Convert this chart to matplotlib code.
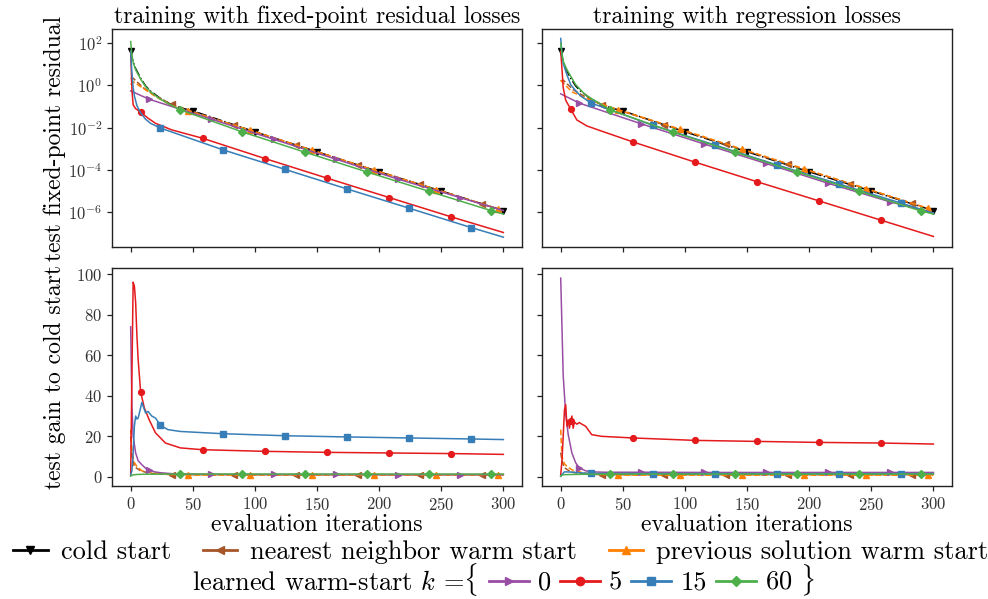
import matplotlib
matplotlib.use("Agg")
import matplotlib.pyplot as plt
from matplotlib.lines import Line2D
from matplotlib.ticker import NullLocator

# ---- cold start (same run for both training losses) ----
COLD_X = [0, 1, 2, 4, 8, 12, 16, 24, 32, 40, 50, 100, 150, 200, 250, 300]
COLD_RES = [4.2e1, 2.2e1, 1.3e1, 6.3e0, 2.2e0, 9.5e-1, 5.4e-1, 2.4e-1, 1.3e-1,
            8.7e-2, 6.2e-2, 6.3e-3, 7.1e-4, 7.9e-5, 9.8e-6, 1.15e-6]

# ---- fixed-point residual losses: test residual ----
FP_NN_X = [0, 2, 10, 20, 33, 83, 133, 183, 233, 283, 300]
FP_NN_RES = [2.0e0, 2.2e0, 7.9e-1, 3.2e-1, 1.26e-1, 1.3e-2, 1.5e-3, 1.7e-4, 2.0e-5, 2.4e-6, 1.15e-6]
FP_PREV_X = [0, 2, 10, 20, 33, 46, 96, 146, 196, 246, 296, 300]
FP_PREV_RES = [1.1e0, 1.5e0, 7.4e-1, 3.0e-1, 1.1e-1, 6.3e-2, 7.6e-3, 8.5e-4, 9.5e-5, 1.15e-5, 1.35e-6, 1.15e-6]
FP_K0_X = [0, 15, 65, 115, 165, 215, 265, 300]
FP_K0_RES = [5.5e-1, 2.2e-1, 2.5e-2, 2.8e-3, 3.2e-4, 3.6e-5, 4.8e-6, 1.15e-6]
FP_K5_X = [0, 1, 2, 4, 8, 14, 20, 33, 58, 108, 158, 208, 258, 300]
FP_K5_RES = [4.2e1, 6.3e-1, 1.2e-1, 7.9e-2, 5.4e-2, 2.8e-2, 1.6e-2, 7.8e-3, 3.1e-3,
             3.4e-4, 4.0e-5, 4.8e-6, 5.8e-7, 1.05e-7]
FP_K15_X = [0, 1, 2, 3, 5, 8, 12, 16, 24, 74, 124, 174, 224, 274, 300]
FP_K15_RES = [4.2e1, 4.0e0, 7.9e-1, 3.2e-1, 1.1e-1, 5.0e-2, 2.5e-2, 1.6e-2, 9.5e-3,
              8.9e-4, 1.05e-4, 1.23e-5, 1.5e-6, 1.8e-7, 6.3e-8]
FP_K60_X = [0, 1, 2, 4, 8, 12, 16, 24, 32, 40, 90, 140, 190, 240, 290, 300]
FP_K60_RES = [1.2e2, 2.8e1, 1.26e1, 5.6e0, 2.0e0, 8.9e-1, 5.0e-1, 2.2e-1, 1.2e-1,
              6.9e-2, 6.2e-3, 6.9e-4, 7.9e-5, 9.5e-6, 1.15e-6, 7.9e-7]

# ---- regression losses: test residual ----
REG_NN_X = [0, 2, 10, 20, 33, 83, 133, 183, 233, 283, 300]
REG_NN_RES = [1.6e0, 1.8e0, 6.3e-1, 2.8e-1, 1.2e-1, 1.4e-2, 1.6e-3, 1.8e-4, 2.2e-5, 2.5e-6, 1.2e-6]
REG_PREV_X = [0, 1, 9, 20, 46, 96, 146, 196, 246, 296, 300]
REG_PREV_RES = [1.8e0, 1.5e0, 5.0e-1, 2.5e-1, 7.1e-2, 8.5e-3, 9.5e-4, 1.1e-4, 1.26e-5, 1.45e-6, 1.23e-6]
REG_K0_X = [0, 15, 65, 115, 165, 215, 265, 300]
REG_K0_RES = [4.0e-1, 1.45e-1, 1.5e-2, 1.7e-3, 2.0e-4, 2.3e-5, 3.0e-6, 8.9e-7]
REG_K5_X = [0, 1, 2, 4, 8, 13, 21, 32, 58, 108, 158, 208, 258, 300]
REG_K5_RES = [4.2e1, 6.3e0, 7.9e-1, 2.0e-1, 7.6e-2, 2.3e-2, 1.2e-2, 7.1e-3, 2.1e-3,
              2.3e-4, 2.7e-5, 3.3e-6, 4.0e-7, 6.8e-8]
REG_K15_X = [0, 1, 2, 5, 8, 12, 16, 24, 74, 124, 174, 224, 274, 300]
REG_K15_RES = [1.7e2, 3.2e1, 1.1e1, 3.2e0, 1.1e0, 5.6e-1, 3.2e-1, 1.5e-1, 1.3e-2,
               1.5e-3, 1.7e-4, 2.1e-5, 2.6e-6, 8.7e-7]
REG_K60_X = [0, 1, 2, 5, 12, 20, 40, 90, 140, 190, 240, 290, 300]
REG_K60_RES = [1.0e2, 3.2e1, 1.4e1, 5.6e0, 1.1e0, 3.5e-1, 6.9e-2, 6.2e-3, 6.9e-4,
               7.9e-5, 9.5e-6, 1.1e-6, 7.9e-7]

# ---- fixed-point residual losses: gain over cold start ----
FP_NN_GX = [0, 1, 3, 8, 15, 33, 83, 133, 183, 233, 283, 300]
FP_NN_GAIN = [20, 10, 5, 3, 1.8, 1.1, 1.1, 1.1, 1.1, 1.1, 1.1, 1.1]
FP_PREV_GX = [0, 1, 3, 5, 9, 17, 30, 46, 96, 146, 196, 246, 296, 300]
FP_PREV_GAIN = [23.3, 12, 7, 5.2, 3, 2, 1.2, 0.9, 0.85, 0.85, 0.85, 0.85, 0.85, 0.85]
FP_K0_GX = [0, 1, 2, 4, 6, 9, 12, 15, 20, 25, 35, 65, 115, 165, 215, 265, 300]
FP_K0_GAIN = [74, 35, 20, 11.8, 8, 6, 4.3, 3.3, 2.4, 2.0, 1.5, 1.3, 1.2, 1.2, 1.15, 1.15, 1.1]
FP_K5_GX = [0, 1, 2, 3, 4, 5, 6, 8, 11, 15, 20, 28, 40, 58, 108, 158, 208, 258, 300]
FP_K5_GAIN = [1, 50, 96, 94, 86, 70, 58, 42, 34, 28, 21.7, 16.7, 14.3, 13.4, 12.6, 12.1,
              11.8, 11.5, 11.1]
FP_K15_GX = [0, 1, 2, 3, 4, 5, 6, 8, 9, 10, 12, 14, 15, 17, 20, 24, 30, 40, 74, 124,
             174, 224, 274, 300]
FP_K15_GAIN = [1, 3, 12, 25, 30, 28.5, 29, 34, 36.7, 35, 31.5, 32.3, 31.5, 30, 29, 25.4,
               23.3, 22.4, 21.3, 20.3, 19.7, 19.2, 18.7, 18.4]
FP_K60_GX = [0, 1, 2, 5, 10, 20, 40, 90, 140, 190, 240, 290, 300]
FP_K60_GAIN = [0.35, 0.8, 1.0, 1.2, 1.3, 1.35, 1.4, 1.4, 1.4, 1.4, 1.4, 1.4, 1.4]

# ---- regression losses: gain over cold start ----
REG_NN_GX = [0, 1, 3, 8, 15, 33, 83, 133, 183, 233, 283, 300]
REG_NN_GAIN = [12, 8, 4.5, 2.5, 1.6, 1.1, 1.1, 1.1, 1.1, 1.1, 1.1, 1.1]
REG_PREV_GX = [0, 1, 3, 5, 9, 13, 20, 30, 46, 96, 146, 196, 246, 296, 300]
REG_PREV_GAIN = [23.3, 10, 6.5, 5.2, 3.5, 2.8, 1.8, 1.2, 0.85, 0.85, 0.85, 0.85, 0.85, 0.85, 0.85]
REG_K0_GX = [0, 1, 2, 4, 6, 9, 12, 15, 20, 25, 35, 65, 115, 165, 215, 265, 300]
REG_K0_GAIN = [98, 74, 50, 31, 21, 11.8, 7, 4.4, 3.0, 2.5, 2.3, 2.3, 2.2, 2.2, 2.2, 2.2, 2.2]
REG_K5_GX = [0, 1, 2, 3, 4, 5, 6, 7, 8, 9, 10, 11, 13, 15, 17, 20, 25, 33, 58, 108, 158,
             208, 258, 300]
REG_K5_GAIN = [1, 8, 20, 33, 35.6, 25, 28, 24, 27.4, 30, 24, 27, 26, 26.8, 26, 25, 20.8,
               20, 19.2, 18.0, 17.5, 17.0, 16.7, 16.2]
REG_K15_GX = [0, 1, 3, 8, 16, 24, 74, 124, 174, 224, 274, 300]
REG_K15_GAIN = [0.25, 1.2, 2.5, 2.4, 2.0, 1.7, 1.6, 1.6, 1.6, 1.6, 1.6, 1.6]
REG_K60_GX = [0, 1, 3, 10, 20, 40, 90, 140, 190, 240, 290, 300]
REG_K60_GAIN = [0.4, 0.9, 1.1, 1.2, 1.3, 1.4, 1.4, 1.4, 1.4, 1.4, 1.4, 1.4]

TITLES = ["training with fixed-point residual losses", "training with regression losses"]
K_LABELS = ["0", "5", "15", r"60 $\}$"]

# color, marker, linestyle, first marked iteration
STYLE = {
    "cold": ("black", "v", "-.", 0),
    "nn": ("#a65628", "<", "--", 33),
    "prev": ("#ff7f00", "^", "--", 46),
    "k0": ("#984ea3", ">", "-", 15),
    "k5": ("#e41a1c", "o", "-", 8),
    "k15": ("#377eb8", "s", "-", 24),
    "k60": ("#4daf4a", "D", "-", 40),
}


def _marks(x, start):
    return [i for i, v in enumerate(x) if v >= start and (v - start) % 50 == 0]


def _draw(ax, key, x, y):
    color, marker, ls, start = STYLE[key]
    ms = 3.6 if marker == "D" else 4.2
    ax.plot(x, y, color=color, ls=ls, lw=1.1, marker=marker, ms=ms,
            markevery=_marks(x, start))


plt.rcParams.update({
    "font.family": "cmr10",
    "mathtext.fontset": "cm",
    "axes.formatter.use_mathtext": True,
    "axes.linewidth": 1.0,
    "axes.edgecolor": "#222222",
    "xtick.color": "#222222",
    "ytick.color": "#222222",
    "xtick.labelcolor": "#333333",
    "ytick.labelcolor": "#333333",
})

fig, axes = plt.subplots(2, 2, figsize=(9.88, 5.99), dpi=100, sharex=True, sharey="row")
fig.subplots_adjust(left=0.1134, right=0.9636, top=0.9516, bottom=0.1886,
                    wspace=0.049, hspace=0.096)

panels = [
    ([("cold", COLD_X, COLD_RES), ("nn", FP_NN_X, FP_NN_RES), ("prev", FP_PREV_X, FP_PREV_RES),
      ("k0", FP_K0_X, FP_K0_RES), ("k5", FP_K5_X, FP_K5_RES), ("k15", FP_K15_X, FP_K15_RES),
      ("k60", FP_K60_X, FP_K60_RES)],
     [("nn", FP_NN_GX, FP_NN_GAIN), ("prev", FP_PREV_GX, FP_PREV_GAIN),
      ("k0", FP_K0_GX, FP_K0_GAIN), ("k5", FP_K5_GX, FP_K5_GAIN),
      ("k15", FP_K15_GX, FP_K15_GAIN), ("k60", FP_K60_GX, FP_K60_GAIN)]),
    ([("cold", COLD_X, COLD_RES), ("nn", REG_NN_X, REG_NN_RES), ("prev", REG_PREV_X, REG_PREV_RES),
      ("k0", REG_K0_X, REG_K0_RES), ("k5", REG_K5_X, REG_K5_RES), ("k15", REG_K15_X, REG_K15_RES),
      ("k60", REG_K60_X, REG_K60_RES)],
     [("nn", REG_NN_GX, REG_NN_GAIN), ("prev", REG_PREV_GX, REG_PREV_GAIN),
      ("k0", REG_K0_GX, REG_K0_GAIN), ("k5", REG_K5_GX, REG_K5_GAIN),
      ("k15", REG_K15_GX, REG_K15_GAIN), ("k60", REG_K60_GX, REG_K60_GAIN)]),
]

for col, (top_series, bottom_series) in enumerate(panels):
    ax_top, ax_bot = axes[0, col], axes[1, col]
    for key, x, y in top_series:
        _draw(ax_top, key, x, y)
    for key, x, y in bottom_series:
        _draw(ax_bot, key, x, y)
    ax_top.set_title(TITLES[col], fontsize=17, pad=4)
    ax_bot.set_xlabel("evaluation iterations", fontsize=17, labelpad=1)

for ax in axes.flat:
    ax.tick_params(labelsize=12, length=3.5, width=0.9)

axes[0, 0].set_yscale("log")
axes[0, 0].set_ylim(10 ** -7.67, 10 ** 2.68)
axes[0, 0].set_yticks([1e2, 1e0, 1e-2, 1e-4, 1e-6])
axes[0, 0].yaxis.set_minor_locator(NullLocator())
axes[0, 1].yaxis.set_minor_locator(NullLocator())
axes[1, 0].set_ylim(-4.5, 103)
axes[1, 0].set_yticks([0, 20, 40, 60, 80, 100])
axes[1, 0].set_xlim(-15, 315)
axes[1, 0].set_xticks([0, 50, 100, 150, 200, 250, 300])

axes[0, 0].set_ylabel("test fixed-point residual", fontsize=17, labelpad=2)
axes[1, 0].set_ylabel("test gain to cold start", fontsize=17, labelpad=2)
fig.align_ylabels(axes[:, 0])


def _handle(key):
    color, marker, _, _ = STYLE[key]
    return Line2D([], [], color=color, marker=marker, lw=2.0,
                  ms=6 if marker != "D" else 5.2)


fig.legend([_handle("cold"), _handle("nn"), _handle("prev")],
           ["cold start", "nearest neighbor warm start", "previous solution warm start"],
           loc="center", bbox_to_anchor=(0.507, 1 - 552 / 599), ncol=3, frameon=False,
           fontsize=19, handlelength=1.3, handletextpad=0.5, columnspacing=1.2,
           borderpad=0, borderaxespad=0)

row2_y = 1 - 580 / 599
fig.text(478 / 988, row2_y, r"learned warm-start $k$ =$\{$", ha="right", va="center",
         fontsize=19)
fig.legend([_handle("k0"), _handle("k5"), _handle("k15"), _handle("k60")], K_LABELS,
           loc="center left", bbox_to_anchor=(489 / 988, row2_y), ncol=4, frameon=False,
           fontsize=19, handlelength=1.5, handletextpad=0.35, columnspacing=0.35,
           borderpad=0, borderaxespad=0)

fig.savefig("out.png", dpi=100)
